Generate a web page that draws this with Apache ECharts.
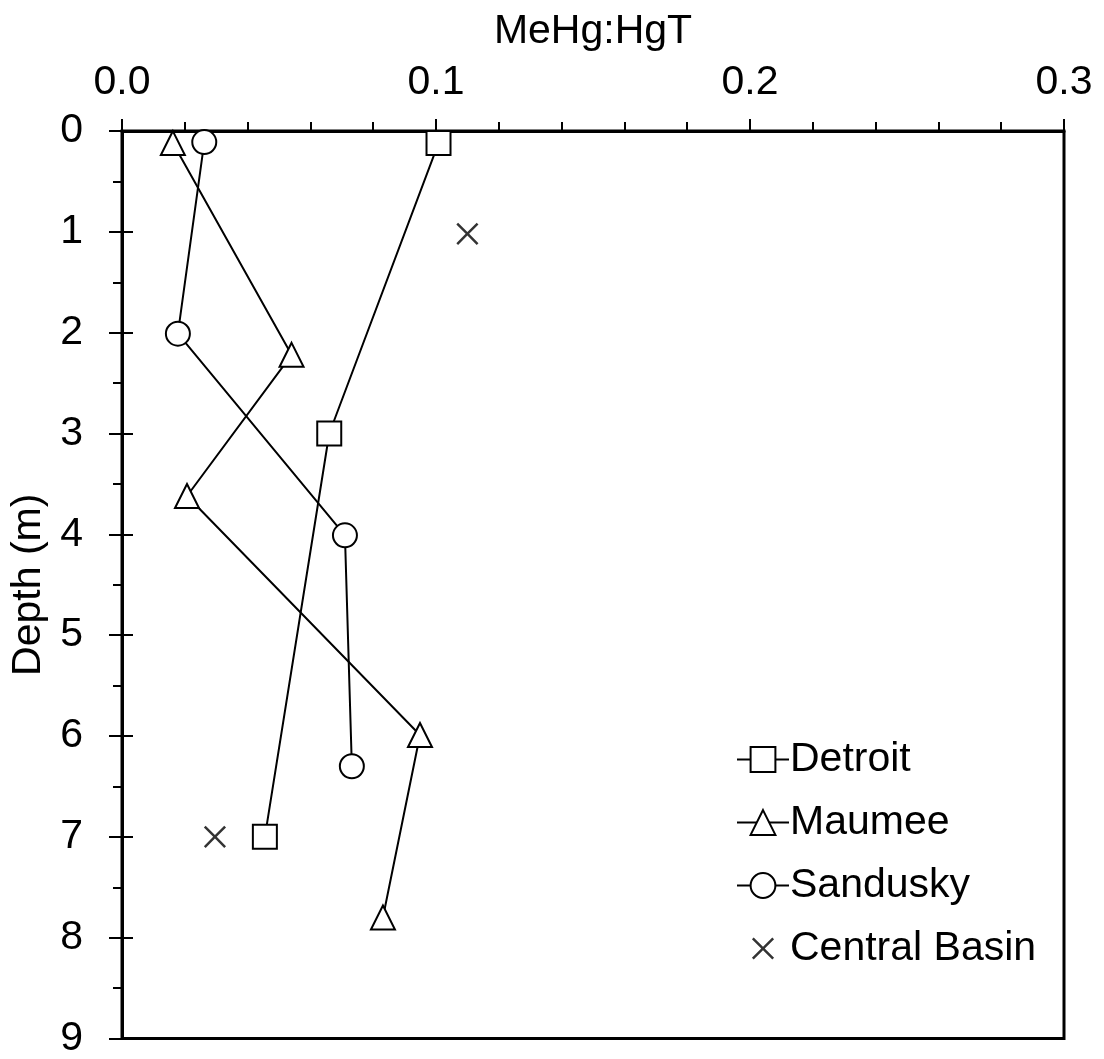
<!DOCTYPE html>
<html>
<head>
<meta charset="utf-8">
<script src="https://cdn.jsdelivr.net/npm/echarts@6/dist/echarts.min.js"></script>
<style>
html,body{margin:0;padding:0;background:#fff;}
#c{width:1104px;height:1059px;}
</style>
</head>
<body>
<div id="c"></div>
<script>
// Data: [MeHg:HgT, Depth (m)]
const seriesNames = ["Detroit", "Maumee", "Sandusky", "Central Basin"];
const detroit = [[0.1008, 0.12], [0.066, 3.0], [0.0455, 7.0]];
const maumee = [[0.0162, 0.12], [0.054, 2.22], [0.0207, 3.62], [0.0949, 5.99], [0.0831, 7.8]];
const sandusky = [[0.0262, 0.11], [0.0178, 2.01], [0.071, 4.01], [0.0732, 6.3]];
const centralBasin = [[0.110, 1.02], [0.0296, 7.0]];
const xTicks = [0, 0.1, 0.2, 0.3];
const yTicks = [0, 1, 2, 3, 4, 5, 6, 7, 8, 9];

const FONT = 'Liberation Sans, Arial, sans-serif';
const FS = 41;
const crossPath = 'path://M-20,-20L-20,-20ZM120,120L120,120ZM0,8L8,0L50,42L92,0L100,8L58,50L100,92L92,100L50,58L8,100L0,92L42,50Z';

const chart = echarts.init(document.getElementById('c'), null, {renderer: 'canvas'});

function lineSeries(name, data, symbol) {
  return {
    name: name, type: 'line', data: data,
    xAxisIndex: 0, yAxisIndex: 0,
    symbol: symbol, symbolSize: 24,
    showAllSymbol: true,
    lineStyle: {color: '#000', width: 2},
    itemStyle: {color: '#fff', borderColor: '#000', borderWidth: 2},
    emphasis: {disabled: true},
    animation: false, z: 3
  };
}

const option = {
  animation: false,
  backgroundColor: '#fff',
  textStyle: {fontFamily: FONT, color: '#000'},
  grid: {left: 122, right: 40, top: 131, bottom: 17, show: true, borderColor: '#000', borderWidth: 3, backgroundColor: 'transparent'},
  legend: {
    orient: 'vertical', left: 731, top: 734, itemGap: 22,
    itemWidth: 52, itemHeight: 31,
    textStyle: {fontFamily: FONT, fontSize: FS, color: '#000', padding: [0, 0, 0, -4]},
    data: seriesNames
  },
  xAxis: [{
    type: 'value', position: 'top', min: xTicks[0], max: xTicks[xTicks.length - 1], interval: 0.1,
    name: 'MeHg:HgT', nameLocation: 'middle', nameGap: 79,
    nameTextStyle: {fontFamily: FONT, fontSize: FS, color: '#000'},
    axisLine: {show: true, lineStyle: {color: '#000', width: 3}},
    axisTick: {show: true, inside: false, length: 12, lineStyle: {color: '#000', width: 2}},
    minorTick: {show: true, splitNumber: 5, length: 9, lineStyle: {color: '#000', width: 2}},
    axisLabel: {fontFamily: FONT, fontSize: FS, color: '#000', margin: 28, formatter: v => v.toFixed(1)},
    splitLine: {show: false}, minorSplitLine: {show: false}
  }],
  yAxis: [{
    type: 'value', position: 'left', min: yTicks[0], max: yTicks[yTicks.length - 1], interval: 1, inverse: true,
    name: 'Depth (m)', nameLocation: 'middle', nameGap: 60,
    nameTextStyle: {fontFamily: FONT, fontSize: FS, color: '#000'},
    axisLine: {show: true, lineStyle: {color: '#000', width: 3}},
    axisTick: {show: true, inside: false, length: 13, lineStyle: {color: '#000', width: 2}},
    minorTick: {show: true, splitNumber: 2, length: 9, lineStyle: {color: '#000', width: 2}},
    axisLabel: {fontFamily: FONT, fontSize: FS, color: '#000', margin: 39},
    splitLine: {show: false}, minorSplitLine: {show: false}
  }, {
    type: 'value', position: 'left', min: yTicks[0], max: yTicks[yTicks.length - 1], interval: 1, inverse: true,
    axisLine: {show: false},
    axisTick: {show: true, inside: true, length: 11, lineStyle: {color: '#000', width: 2}},
    axisLabel: {show: false},
    splitLine: {show: false}
  }],
  series: [
    lineSeries(seriesNames[0], detroit, 'rect'),
    lineSeries(seriesNames[1], maumee, 'triangle'),
    lineSeries(seriesNames[2], sandusky, 'circle'),
    {
      name: seriesNames[3], type: 'scatter', data: centralBasin,
      xAxisIndex: 0, yAxisIndex: 0,
      symbol: crossPath, symbolSize: 31,
      itemStyle: {color: '#000', borderWidth: 0},
      emphasis: {disabled: true}, z: 3
    }
  ]
};
chart.setOption(option);
</script>
</body>
</html>
